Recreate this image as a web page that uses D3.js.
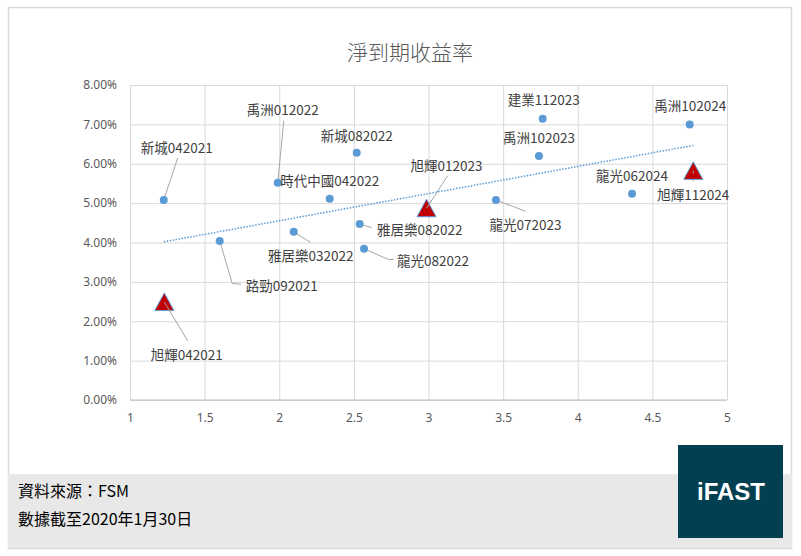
<!DOCTYPE html>
<html>
<head>
<meta charset="utf-8">
<script src="https://cdn.jsdelivr.net/npm/d3@7"></script>
<style>
  html, body { margin: 0; padding: 0; background: #fff; }
  svg { display: block; }
</style>
</head>
<body>
<svg id="vis" width="801" height="556"></svg>
<script>
// other issuers (blue dots)
const bondNames = ['新城042021', '禹洲012022', '新城082022', '時代中國042022', '雅居樂082022', '雅居樂032022',
  '龍光082022', '路勁092021', '建業112023', '禹洲102024', '禹洲102023', '龍光062024', '龍光072023'];
const bondYears = [1.226, 1.99, 2.519, 2.338, 2.539, 2.097, 2.568, 1.601, 3.765, 4.75, 3.74, 4.364, 3.452];
const bondYields = [5.08, 5.52, 6.28, 5.11, 4.47, 4.27, 3.84, 4.04, 7.14, 7.00, 6.20, 5.24, 5.08];

// 旭輝 bonds (red triangles)
const cifiNames = ['旭輝012023', '旭輝112024', '旭輝042021'];
const cifiYears = [2.987, 4.774, 1.23];
const cifiYields = [4.87, 5.82, 2.49];

const xTicks = [1, 1.5, 2, 2.5, 3, 3.5, 4, 4.5, 5];
const yTicks = [0, 1, 2, 3, 4, 5, 6, 7, 8];

const title = '淨到期收益率';
const sourceText = '資料來源：FSM';
const dateText = '數據截至2020年1月30日';

// label placement (offset from the marker) and leader bends, same order as names
const bondLabelPos = [[13, -53], [5, -74], [0, -18], [0, -19], [60, 5.5], [17, 23.5],
  [69, 11.5], [62, 44.5], [1, -19.5], [0.5, -19], [0, -19], [0, -18.5], [29.5, 24.5]];
const bondLeaders = [[[14, -42]], [[6, -62]], null, null, [[12, 3.6]], [[17, 10.6]],
  [[24.3, 10.6], [30, 10.6]], [[12.6, 42.6], [21.3, 43.3]], null, null, null, null, [[29.7, 11.3]]];
const cifiLabelPos = [[20, -43.5], [0, 23.5], [22.5, 52]];
const cifiLeaders = [[[21, -32.3]], [[0, 10.5]], [[23.4, 39]]];

const bonds = bondNames.map((n, i) => ({name: n, x: bondYears[i], y: bondYields[i],
  pos: bondLabelPos[i], leader: bondLeaders[i]}));
const cifi = cifiNames.map((n, i) => ({name: n, x: cifiYears[i], y: cifiYields[i],
  pos: cifiLabelPos[i], leader: cifiLeaders[i]}));
const all = bonds.concat(cifi);

const vis = d3.select('#vis');
const plot = {left: 130, right: 727, top: 85, bottom: 400};

const x = d3.scaleLinear().domain([1, 5]).range([plot.left, plot.right]);
const y = d3.scaleLinear().domain([0, 8]).range([plot.bottom, plot.top]);

// panel + footer
vis.append('rect')
  .attr('x', 8.5).attr('y', 7.5).attr('width', 783).attr('height', 541)
  .attr('fill', '#fff').attr('stroke', '#d9d9d9').attr('stroke-width', 1.5);
vis.append('rect')
  .attr('x', 8).attr('y', 474).attr('width', 784).attr('height', 74)
  .attr('fill', '#e8e8e8');
vis.append('text')
  .attr('x', 18).attr('y', 497)
  .attr('font-family', '"Noto Sans CJK TC", sans-serif').attr('font-size', 16)
  .attr('fill', '#000').text(sourceText);
vis.append('text')
  .attr('x', 18).attr('y', 525)
  .attr('font-family', '"Noto Sans CJK TC", sans-serif').attr('font-size', 16)
  .attr('fill', '#000').text(dateText);

// logo
vis.append('rect')
  .attr('x', 678).attr('y', 445).attr('width', 105).attr('height', 93)
  .attr('fill', '#023f51');
vis.append('text')
  .attr('x', 731).attr('y', 500).attr('text-anchor', 'middle')
  .attr('font-family', '"Liberation Sans", Arial, sans-serif').attr('font-size', 24)
  .attr('font-weight', 'bold').attr('fill', '#fff').text('iFAST');

// title
vis.append('text')
  .attr('x', 410).attr('y', 60).attr('text-anchor', 'middle')
  .attr('font-family', '"Noto Sans CJK TC", sans-serif').attr('font-size', 21)
  .attr('font-weight', 300).attr('fill', '#595959').text(title);

// axes with gridlines
const yAxis = vis.append('g')
  .attr('transform', `translate(${plot.left},0)`)
  .call(d3.axisLeft(y).tickValues(yTicks).tickSize(-(plot.right - plot.left)).tickPadding(13)
    .tickFormat(d => d.toFixed(2) + '%'));
const xAxis = vis.append('g')
  .attr('transform', `translate(0,${plot.bottom})`)
  .call(d3.axisBottom(x).tickValues(xTicks).tickSize(-(plot.bottom - plot.top)).tickPadding(13)
    .tickFormat(d => d3.format('')(d)));
[yAxis, xAxis].forEach(g => {
  g.select('.domain').remove();
  g.selectAll('line').attr('stroke', '#d9d9d9');
  g.selectAll('text')
    .attr('fill', '#595959')
    .attr('font-family', '"Noto Sans", "Open Sans", sans-serif')
    .attr('font-size', 12);
});
vis.append('line')
  .attr('x1', plot.left).attr('x2', plot.right).attr('y1', plot.bottom).attr('y2', plot.bottom)
  .attr('stroke', '#bfbfbf');

// linear trendline over all points
const mx = d3.mean(all, d => d.x), my = d3.mean(all, d => d.y);
const slope = d3.sum(all, d => (d.x - mx) * (d.y - my)) / d3.sum(all, d => (d.x - mx) ** 2);
const [x0, x1] = d3.extent(all, d => d.x);
vis.append('line')
  .attr('x1', x(x0)).attr('y1', y(my + slope * (x0 - mx)))
  .attr('x2', x(x1)).attr('y2', y(my + slope * (x1 - mx)))
  .attr('stroke', '#5b9bd5').attr('stroke-width', 1.5)
  .attr('stroke-dasharray', '1.5,1.5');

// leader lines
vis.append('g').selectAll('polyline')
  .data(all.filter(d => d.leader))
  .join('polyline')
    .attr('points', d => [[x(d.x), y(d.y)]]
      .concat(d.leader.map(p => [x(d.x) + p[0], y(d.y) + p[1]])).map(p => p.join(',')).join(' '))
    .attr('fill', 'none').attr('stroke', '#a6a6a6').attr('stroke-width', 1);

// markers
vis.append('g').selectAll('circle')
  .data(bonds)
  .join('circle')
    .attr('cx', d => x(d.x)).attr('cy', d => y(d.y)).attr('r', 4)
    .attr('fill', '#5b9bd5');
vis.append('g').selectAll('path')
  .data(cifi)
  .join('path')
    .attr('d', d => {
      const cx = x(d.x), cy = y(d.y);
      return `M${cx},${cy - 9}L${cx + 9.5},${cy + 8.5}L${cx - 9.5},${cy + 8.5}Z`;
    })
    .attr('fill', '#c00000').attr('stroke', '#5b9bd5').attr('stroke-width', 1);
// the leader line shows through the triangle in the original
vis.append('g').selectAll('line')
  .data(cifi)
  .join('line')
    .attr('x1', d => x(d.x)).attr('y1', d => y(d.y))
    .attr('x2', d => x(d.x) + d.leader[0][0] * 0.25).attr('y2', d => y(d.y) + d.leader[0][1] * 0.25)
    .attr('stroke', '#a6a6a6').attr('stroke-width', 1);

// labels
vis.append('g').selectAll('text')
  .data(all)
  .join('text')
    .attr('x', d => x(d.x) + d.pos[0])
    .attr('y', d => y(d.y) + d.pos[1])
    .attr('text-anchor', 'middle')
    .attr('dominant-baseline', 'central')
    .attr('font-family', '"Noto Sans CJK TC", sans-serif')
    .attr('font-size', 13.5)
    .attr('fill', '#404040')
    .text(d => d.name);
</script>
</body>
</html>
